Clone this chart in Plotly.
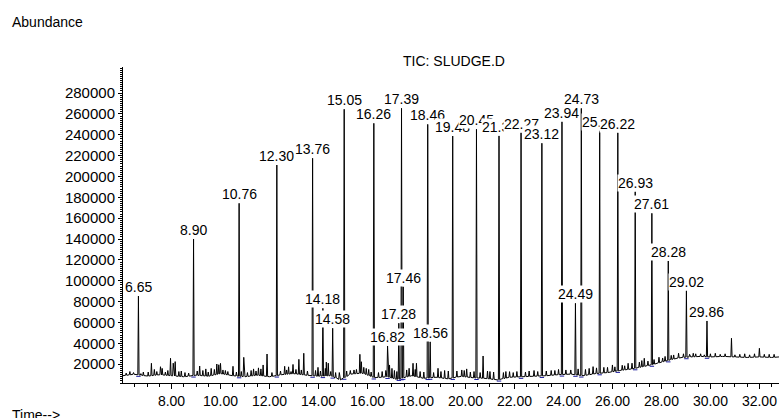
import numpy as np
import plotly.graph_objects as go

# ---------------- data ----------------
peak_times = [6.65, 8.90, 10.76, 12.30, 13.76, 14.18, 14.58, 15.05, 16.26, 16.82,
              17.28, 17.39, 17.46, 18.46, 18.56, 19.48, 20.45, 21.37, 22.27, 23.12,
              23.94, 24.49, 24.73, 25.48, 26.22, 26.93, 27.61, 28.28, 29.02, 29.86]
peak_heights = [85400, 140100, 174300, 211000, 217500, 73600, 54500, 264500, 251000, 37500,
                59300, 265400, 94400, 250000, 41600, 238800, 245300, 239000, 242000, 231900,
                252600, 78400, 265300, 244000, 242000, 185500, 164700, 119000, 90500, 61500]
peak_labels = ["6.65", "8.90", "10.76", "12.30", "13.76", "14.18", "14.58", "15.05", "16.26", "16.82",
               "17.28", "17.39", "17.46", "18.46", "18.56", "19.48", "20.45", "21.37", "22.27", "23.12",
               "23.94", "24.49", "24.73", "25.48", "26.22", "26.93", "27.61", "28.28", "29.02", "29.86"]

# unlabelled minor peaks
minor_times = [6.30, 6.85, 7.18, 7.30, 7.55, 7.62, 7.96, 8.07, 8.15, 8.40, 9.15, 9.40, 9.62,
               9.85, 9.93, 10.00, 10.20, 10.51, 10.95, 11.35, 11.55, 11.74, 11.90, 12.62,
               12.78, 12.96, 13.20, 13.40, 13.98, 14.32, 14.40, 14.85, 15.45, 15.69, 15.75,
               16.05, 16.90, 17.10, 17.70, 17.86, 18.00, 18.88, 19.30, 19.85, 20.05, 20.72,
               21.00, 21.80, 22.60, 23.50, 24.30, 25.21, 25.80, 26.00, 26.64, 27.30, 27.45,
               27.90, 28.50, 28.70, 29.40, 30.20, 30.86, 31.40, 32.00, 32.40]
minor_heights = [13000, 12500, 20900, 15000, 17600, 16000, 25700, 21000, 22500, 13500, 18300, 15500, 16000,
                 20200, 19500, 20800, 14000, 18000, 26600, 15500, 16500, 19300, 29800, 18000,
                 17500, 19800, 24700, 30500, 17000, 22000, 21000, 12000, 14500, 29500, 22400,
                 15000, 19300, 14000, 16100, 20900, 20900, 16100, 13500, 14500, 15500, 27900,
                 13000, 12900, 13500, 14000, 14500, 17700, 17000, 19300, 20900, 25700, 23000,
                 26700, 28900, 30500, 30000, 30500, 44900, 30000, 35300, 29500]

# small noise spikes on the baseline
noise_times = [6.15, 6.45, 6.75, 7.05, 7.40, 7.75, 7.85, 8.30, 8.55, 8.70, 9.05, 9.28, 9.50, 9.75,
               10.10, 10.30, 10.65, 10.85, 11.10, 11.25, 11.45, 11.65, 12.10, 12.45, 12.70, 12.88,
               13.08, 13.30, 13.55, 13.88, 14.08, 14.28, 14.50, 14.70, 15.15, 15.30, 15.55, 15.85,
               15.95, 16.15, 16.45, 16.60, 16.75, 17.00, 17.20, 17.60, 17.95, 18.15, 18.30, 18.70,
               19.00, 19.15, 19.65, 19.95, 20.20, 20.35, 20.60, 20.90, 21.15, 21.55, 21.65, 21.95,
               22.10, 22.45, 22.80, 22.95, 23.30, 23.65, 23.80, 24.10, 24.60, 24.90, 25.05, 25.35,
               25.65, 26.10, 26.40, 26.50, 26.80, 27.10, 27.20, 27.70, 28.05, 28.15, 28.40, 28.90,
               29.15, 29.30, 29.60, 29.75, 30.00, 30.40, 30.60, 31.00, 31.20, 31.60, 31.80, 32.20,
               32.60]
noise_heights = [11500, 12000, 11000, 12500, 13000, 12500, 14000, 13000, 12000, 11500, 13500, 14000, 12500, 15000,
                 14500, 13000, 12500, 13000, 12000, 14000, 13500, 15500, 12000, 13500, 14500, 13000,
                 15000, 14500, 13500, 14000, 13500, 16000, 13000, 12000, 13500, 14000, 15000, 17000,
                 16000, 12500, 12000, 13000, 14000, 16000, 13000, 14500, 15000, 13000, 12500, 12000,
                 13000, 14000, 13500, 14000, 12500, 13000, 12000, 13500, 12500, 12000, 13000, 12000,
                 13000, 12500, 14000, 13000, 13500, 14000, 15000, 14500, 15500, 15000, 16000, 16500,
                 17000, 17500, 19000, 18500, 21000, 22000, 23500, 24500, 26000, 27500, 28500, 30000,
                 29500, 30500, 30000, 29000, 30000, 29500, 30000, 29000, 29500, 29000, 30000, 29500,
                 29500]

base_times = [6.02, 6.5, 7.0, 7.5, 8.0, 8.5, 9.0, 9.5, 10.0, 10.5, 11.0, 11.5, 12.0, 12.5,
              13.0, 13.5, 14.0, 14.5, 14.9, 15.3, 15.8, 16.3, 16.8, 17.2, 17.8, 18.3, 18.8,
              19.3, 19.8, 20.3, 20.8, 21.3, 21.8, 22.3, 22.8, 23.3, 23.8, 24.3, 24.8, 25.3,
              25.8, 26.3, 26.8, 27.2, 27.6, 28.0, 28.4, 28.8, 29.2, 29.6, 30.0, 30.5, 31.0,
              31.5, 32.0, 32.5, 32.8]
base_levels = [9000, 10500, 8500, 10000, 9000, 8000, 9500, 8500, 11000, 9000, 8000, 9500, 8000, 10000,
               11000, 9500, 8500, 9000, 5000, 10500, 11500, 7000, 8000, 5500, 9000, 6500, 7500,
               6000, 8500, 7000, 6500, 5000, 7500, 8000, 8500, 9000, 10000, 10500, 9000, 11000,
               12000, 14000, 15500, 17500, 19500, 22000, 24500, 26500, 27000, 27500, 27000, 27500, 27000,
               26500, 27000, 26500, 27000]

y_ticks = list(range(20000, 280001, 20000))

# ---------------- build the TIC trace ----------------
half_w = 0.025
all_t = list(peak_times) + list(minor_times) + list(noise_times)
all_h = list(peak_heights) + list(minor_heights) + list(noise_heights)
pts = []
for t, h in zip(all_t, all_h):
    b = float(np.interp(t, base_times, base_levels))
    pts += [(t - half_w, b), (t, h), (t + half_w, b)]
for t, b in zip(base_times, base_levels):
    if min(abs(t - p) for p in all_t) > 2 * half_w:
        pts.append((t, b))
pts.sort(key=lambda p: p[0])
tx = [p[0] for p in pts]
ty = [p[1] for p in pts]

# blue integration baselines under labelled peaks
bx, by = [], []
for t in peak_times:
    b = float(np.interp(t, base_times, base_levels)) - 1500
    bx += [t - 0.09, t + 0.09, None]
    by += [b, b, None]

fig = go.Figure()
fig.add_trace(go.Scatter(x=bx, y=by, mode="lines", line=dict(color="#1a1a9c", width=1),
                         hoverinfo="skip", showlegend=False))
fig.add_trace(go.Scatter(x=tx, y=ty, mode="lines", line=dict(color="black", width=1),
                         showlegend=False))

FONT = "Liberation Sans, Arial, sans-serif"
annotations = []
for t, h, lab in zip(peak_times, peak_heights, peak_labels):
    annotations.append(dict(x=t, y=h, xref="x", yref="y", text=lab, showarrow=False,
                            xanchor="center", yanchor="bottom", bgcolor="white",
                            borderpad=0, font=dict(family=FONT, size=14, color="black")))

# plot-area pixel geometry
L, R, T, B = 123, 779, 67, 383
def px(x):
    return (x - L) / (R - L)
def py(y):
    return (B - y) / (B - T)

annotations += [
    dict(x=px(10), y=py(22), xref="paper", yref="paper", text="Abundance", showarrow=False,
         xanchor="left", yanchor="middle", font=dict(family=FONT, size=14, color="black")),
    dict(x=px(454), y=py(61), xref="paper", yref="paper", text="TIC: SLUDGE.D", showarrow=False,
         xanchor="center", yanchor="middle", font=dict(family=FONT, size=14, color="black")),
    dict(x=px(10), y=py(405), xref="paper", yref="paper", text="Time-->", showarrow=False,
         xanchor="left", yanchor="top", font=dict(family=FONT, size=14, color="black")),
]

fig.update_layout(
    width=779, height=418, template="none",
    margin=dict(l=L, r=779 - R, t=T, b=418 - B, pad=0),
    paper_bgcolor="white", plot_bgcolor="white",
    showlegend=False, annotations=annotations,
    font=dict(family=FONT, color="black"),
)
fig.update_xaxes(range=[6.02, 32.8], showline=True, linecolor="black", linewidth=1,
                 ticks="outside", ticklen=5, tickcolor="black", dtick=2, tick0=0,
                 tickformat=".2f", showgrid=False, zeroline=False,
                 tickfont=dict(family=FONT, size=14, color="black"),
                 minor=dict(dtick=0.5, ticks="outside", ticklen=3, tickcolor="black", showgrid=False))
fig.update_yaxes(range=[2000, 305000], showline=True, linecolor="black", linewidth=1,
                 ticks="outside", ticklen=4, tickcolor="black", tickvals=y_ticks,
                 ticktext=[str(v) for v in y_ticks], showgrid=False, zeroline=False,
                 tickfont=dict(family=FONT, size=15, color="black"),
                 minor=dict(dtick=2000, tick0=0, ticks="outside", ticklen=2, tickcolor="black", showgrid=False))

fig.write_html("out.html", config={"displayModeBar": False},
               post_script="document.body.style.margin='0';document.body.style.padding='0';"
                           "document.documentElement.style.overflow='hidden';")
